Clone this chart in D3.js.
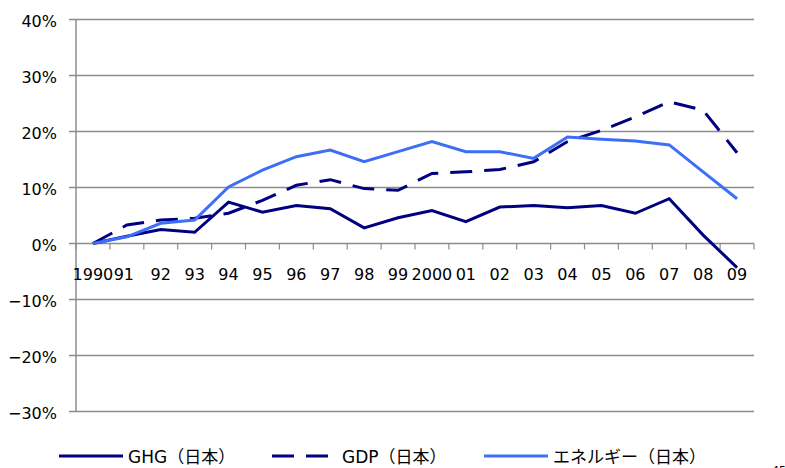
<!DOCTYPE html>
<html>
<head>
<meta charset="utf-8">
<script src="https://cdn.jsdelivr.net/npm/d3@7"></script>
<style>
  body { margin: 0; background: #fff; }
  text { font-family: "DejaVu Sans", "Noto Sans CJK JP", sans-serif; fill: #000; }
</style>
</head>
<body>
<div id="chart"></div>
<script>
const WIDTH = 785
const HEIGHT = 468

const years = ['1990','91','92','93','94','95','96','97','98','99','2000','01','02','03','04','05','06','07','08','09']
const ghg = [0, 1.3, 2.5, 2.0, 7.4, 5.6, 6.8, 6.2, 2.8, 4.6, 5.9, 3.9, 6.5, 6.8, 6.4, 6.8, 5.4, 8.0, 1.5, -4.3]
const gdp = [0, 3.3, 4.2, 4.5, 5.4, 7.7, 10.4, 11.4, 9.8, 9.5, 12.5, 12.8, 13.2, 14.6, 18.2, 20.2, 22.6, 25.3, 23.8, 16.2]
const energy = [0, 1.2, 3.6, 4.2, 10.1, 13.1, 15.5, 16.7, 14.6, 16.4, 18.2, 16.4, 16.4, 15.2, 19.0, 18.6, 18.3, 17.6, 12.8, 8.0]
const yTicks = [-30, -20, -10, 0, 10, 20, 30, 40]

const series = [
    { name: 'GHG（日本）', values: ghg, color: '#000080', dash: null },
    { name: 'GDP（日本）', values: gdp, color: '#000080', dash: '22,12' },
    { name: 'エネルギー（日本）', values: energy, color: '#3d6ef6', dash: null }
]

const svg = d3.select('#chart').append('svg').attr('width', WIDTH).attr('height', HEIGHT)

const plotLeft = 76, plotRight = 754, plotTop = 19.5, plotBottom = 411.5

const x = d3.scaleBand().domain(years).range([plotLeft, plotRight])
const y = d3.scaleLinear().domain([-30, 40]).range([plotBottom, plotTop])

// gridlines
svg.append('g')
    .selectAll('line')
    .data(yTicks)
    .enter()
    .append('line')
    .attr('x1', plotLeft - 7)
    .attr('x2', plotRight)
    .attr('y1', d => y(d))
    .attr('y2', d => y(d))
    .attr('stroke', '#8c8c8c')
    .attr('stroke-width', 1.5)

// y axis line
svg.append('line')
    .attr('x1', plotLeft).attr('x2', plotLeft)
    .attr('y1', plotTop).attr('y2', plotBottom)
    .attr('stroke', '#8c8c8c').attr('stroke-width', 1.5)

// y labels
svg.append('g')
    .selectAll('text')
    .data(yTicks)
    .enter()
    .append('text')
    .attr('x', 57)
    .attr('y', d => y(d) + 7)
    .attr('text-anchor', 'end')
    .style('font-size', '16px')
    .text(d => (d < 0 ? '−' + Math.abs(d) : d) + '%')

// x ticks on zero line
const tickPos = years.map(d => x(d)).concat([plotRight])
svg.append('g')
    .selectAll('line')
    .data(tickPos)
    .enter()
    .append('line')
    .attr('x1', d => d).attr('x2', d => d)
    .attr('y1', y(0)).attr('y2', y(0) + 6)
    .attr('stroke', '#8c8c8c').attr('stroke-width', 1.2)

// x labels
svg.append('g')
    .selectAll('text')
    .data(years)
    .enter()
    .append('text')
    .attr('x', (d, i) => x(d) + x.bandwidth() / 2 - (i === 1 ? 3 : 0))
    .attr('y', y(0) + 36)
    .attr('text-anchor', 'middle')
    .style('font-size', '16px')
    .text(d => d)

// lines
const line = d3.line()
    .x((d, i) => x(years[i]) + x.bandwidth() / 2)
    .y(d => y(d))

svg.append('g')
    .selectAll('path')
    .data(series)
    .enter()
    .append('path')
    .attr('d', d => line(d.values))
    .attr('fill', 'none')
    .attr('stroke', d => d.color)
    .attr('stroke-width', 3)
    .attr('stroke-dasharray', d => d.dash)

// legend
const legendX = [59, 272, 484]
const lg = svg.append('g')
    .selectAll('g')
    .data(series)
    .enter()
    .append('g')
    .attr('transform', (d, i) => `translate(${legendX[i]},456)`)

lg.append('line')
    .attr('x1', 0).attr('x2', d => d.dash ? 58 : 64)
    .attr('y1', 0).attr('y2', 0)
    .attr('stroke', d => d.color)
    .attr('stroke-width', 3)
    .attr('stroke-dasharray', d => d.dash)

lg.append('text')
    .attr('x', (d, i) => i === 1 ? 70 : 69)
    .attr('y', 7)
    .style('font-size', '17px')
    .text(d => d.name)

// page number (cut off at bottom)
svg.append('text')
    .attr('x', 772)
    .attr('y', 474)
    .style('font-size', '11px')
    .text('45')
</script>
</body>
</html>
